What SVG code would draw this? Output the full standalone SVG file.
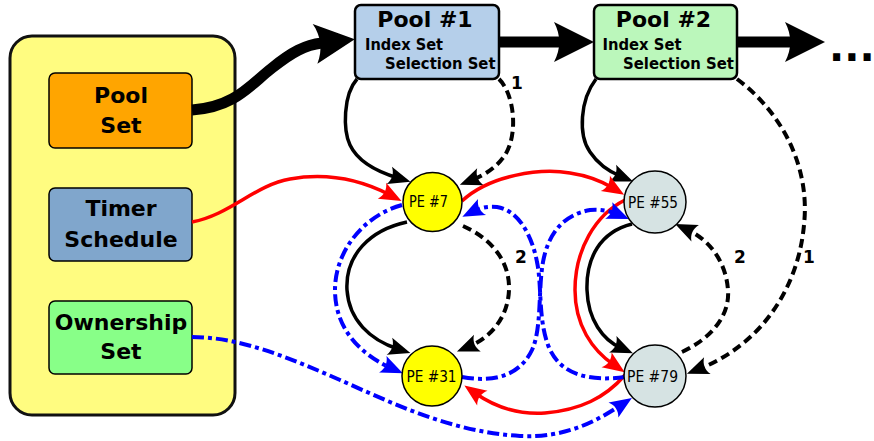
<svg xmlns="http://www.w3.org/2000/svg" width="874" height="441" viewBox="0 0 874 441">
  <defs>
    <style>
      .title { font-family: "DejaVu Sans", "Liberation Sans", sans-serif; font-weight: bold; font-size: 22px; fill: #000; }
      .sub { font-family: "DejaVu Sans", "Liberation Sans", sans-serif; font-weight: bold; font-size: 15px; fill: #000; }
      .pe { font-family: "DejaVu Sans", "Liberation Sans", sans-serif; font-size: 15.5px; fill: #000; }
      .num { font-family: "DejaVu Sans", "Liberation Sans", sans-serif; font-weight: bold; font-size: 17px; fill: #000; }
      .box { stroke: #000; stroke-width: 1.5; }
      .pool { stroke: #000; stroke-width: 2.5; }
      .pe-node { stroke: #000; stroke-width: 1.5; }
      .thick { fill: none; stroke: #000; stroke-width: 11; }
      .solid { fill: none; stroke: #000; stroke-width: 3.5; }
      .dash { fill: none; stroke: #000; stroke-width: 4; stroke-dasharray: 9 5; }
      .red { fill: none; stroke: #ff0000; stroke-width: 3.5; }
      .blue { fill: none; stroke: #0000ff; stroke-width: 4; stroke-dasharray: 12 4 4 4; }
    </style>
    <marker id="big" markerUnits="userSpaceOnUse" markerWidth="60" markerHeight="60" viewBox="-20 -30 60 60" refX="0" refY="0" orient="auto" overflow="visible">
      <path d="M33,0 L-7,-20 C0,-7 0,7 -7,20 Z" fill="#000"/>
    </marker>
    <marker id="ak" markerUnits="userSpaceOnUse" markerWidth="30" markerHeight="30" viewBox="-15 -15 30 30" refX="0" refY="0" orient="auto" overflow="visible">
      <path d="M13,0 L-9,-9 C-5,-3 -5,3 -9,9 Z" fill="#000"/>
    </marker>
    <marker id="ar" markerUnits="userSpaceOnUse" markerWidth="30" markerHeight="30" viewBox="-15 -15 30 30" refX="0" refY="0" orient="auto" overflow="visible">
      <path d="M13,0 L-9,-9 C-5,-3 -5,3 -9,9 Z" fill="#ff0000"/>
    </marker>
    <marker id="ab" markerUnits="userSpaceOnUse" markerWidth="30" markerHeight="30" viewBox="-15 -15 30 30" refX="0" refY="0" orient="auto" overflow="visible">
      <path d="M13,0 L-9,-9 C-5,-3 -5,3 -9,9 Z" fill="#0000ff"/>
    </marker>
  </defs>

  <rect width="874" height="441" fill="#fff"/>

  <!-- scheduler state container -->
  <g id="state">
    <rect x="10" y="36" width="225" height="379" rx="22" fill="#fffc80" stroke="#111" stroke-width="3"/>
  </g>
  <g id="pool-set">
    <rect class="box" x="49" y="73" width="143" height="75" rx="6" fill="#ffa500"/>
    <text class="title" x="121" y="103" text-anchor="middle">Pool</text>
    <text class="title" x="121" y="133" text-anchor="middle">Set</text>
  </g>
  <g id="timer-schedule">
    <rect class="box" x="49" y="188" width="143" height="73" rx="6" fill="#80a6cc"/>
    <text class="title" x="121" y="216" text-anchor="middle">Timer</text>
    <text class="title" x="121" y="247" text-anchor="middle">Schedule</text>
  </g>
  <g id="ownership-set">
    <rect class="box" x="49" y="301" width="143" height="73" rx="6" fill="#88ff88"/>
    <text class="title" x="121" y="330" text-anchor="middle">Ownership</text>
    <text class="title" x="121" y="359" text-anchor="middle">Set</text>
  </g>

  <g id="connectors">
    <!-- pool chain -->
    <path class="thick" d="M192,110 C235,107 250,85 272,68 C292,52 305,45 322,43" marker-end="url(#big)"/>
    <path class="thick" d="M499,42 L561,42" marker-end="url(#big)"/>
    <path class="thick" d="M737,42 L792,42" marker-end="url(#big)"/>
    <text class="title" x="829" y="61" style="font-size:40px">...</text>

    <!-- pool to PE links -->
    <path class="solid" d="M357,79 C343,95 343,130 350,145 C358,162 378,172 398,178" marker-end="url(#ak)"/>
    <path class="dash" d="M499,79 C515,95 518,135 505,155 C497,167 485,175 472,180" marker-end="url(#ak)"/>
    <text class="num" x="517" y="89" text-anchor="middle">1</text>
    <path class="solid" d="M596,79 C580,100 578,135 590,152 C598,164 610,172 621,176.5" marker-end="url(#ak)"/>
    <path class="dash" d="M737,79 C785,115 810,170 804,225 C798,290 760,345 699,369" marker-end="url(#ak)"/>
    <text class="num" x="809" y="263" text-anchor="middle">1</text>

    <!-- PE to PE links -->
    <path class="solid" d="M407,222 C370,230 345,255 347,290 C349,320 370,340 398,349" marker-end="url(#ak)"/>
    <path class="dash" d="M463,226 C490,238 510,260 509,290 C508,318 490,338 469,346.5" marker-end="url(#ak)"/>
    <text class="num" x="521" y="263" text-anchor="middle">2</text>
    <path class="solid" d="M632,224 C600,232 586,258 587,290 C588,320 603,340 621,348" marker-end="url(#ak)"/>
    <path class="dash" d="M682,352 C712,338 730,315 728,290 C726,262 710,240 687,229.5" marker-end="url(#ak)"/>
    <text class="num" x="740" y="263" text-anchor="middle">2</text>

    <!-- timer links -->
    <path class="red" d="M192,222 C230,215 255,185 290,179 C330,172 365,182 390,195" marker-end="url(#ar)"/>
    <path class="red" d="M462,201 C490,175 540,168 570,173 C590,176 603,182 613,188" marker-end="url(#ar)"/>
    <path class="red" d="M625,200 C595,215 575,250 575,290 C575,325 592,350 614,365" marker-end="url(#ar)"/>
    <path class="red" d="M625,375 C605,398 580,410 545,413 C515,415 492,405 475,393" marker-end="url(#ar)"/>

    <!-- ownership links -->
    <path class="blue" d="M402,205 C365,215 335,250 335,290 C335,330 362,355 391,368" marker-end="url(#ab)"/>
    <path class="blue" d="M625,377 C595,381 560,378 548,345 C538,318 542,285 537,262 C532,235 518,210 497,207 C488,206 480,208 474,211" marker-end="url(#ab)"/>
    <path class="blue" d="M462,377 C495,383 520,375 532,350 C542,328 538,290 543,262 C548,235 562,215 590,210 C600,209 610,211 617,214" marker-end="url(#ab)"/>
    <path class="blue" d="M192,337 C240,337 290,358 340,380 C390,402 450,432 520,436 C565,438 595,422 621,405" marker-end="url(#ab)"/>
  </g>

  <g id="pool-1">
    <rect class="pool" x="355" y="5" width="144" height="74" rx="6" fill="#b5cfea"/>
    <text class="title" x="425" y="27" text-anchor="middle">Pool #1</text>
    <text class="sub" x="365" y="50" textLength="78" lengthAdjust="spacingAndGlyphs">Index Set</text>
    <text class="sub" x="385" y="69" textLength="110.5" lengthAdjust="spacingAndGlyphs">Selection Set</text>
  </g>
  <g id="pool-2">
    <rect class="pool" x="594" y="5" width="143" height="74" rx="6" fill="#bbf7bb"/>
    <text class="title" x="663.5" y="27" text-anchor="middle">Pool #2</text>
    <text class="sub" x="602.5" y="50" textLength="79" lengthAdjust="spacingAndGlyphs">Index Set</text>
    <text class="sub" x="623" y="69" textLength="111" lengthAdjust="spacingAndGlyphs">Selection Set</text>
  </g>

  <g id="pe-7">
    <circle class="pe-node" cx="432.5" cy="202" r="29.5" fill="#ffff00"/>
    <text class="pe" x="409" y="206.5" textLength="39" lengthAdjust="spacingAndGlyphs">PE #7</text>
  </g>
  <g id="pe-31">
    <circle class="pe-node" cx="432" cy="376" r="30" fill="#ffff00"/>
    <text class="pe" x="406.5" y="382" textLength="50" lengthAdjust="spacingAndGlyphs">PE #31</text>
  </g>
  <g id="pe-55">
    <circle class="pe-node" cx="655" cy="202" r="31" fill="#d6e3e3"/>
    <text class="pe" x="628" y="207.5" textLength="50" lengthAdjust="spacingAndGlyphs">PE #55</text>
  </g>
  <g id="pe-79">
    <circle class="pe-node" cx="655" cy="376" r="31" fill="#d6e3e3"/>
    <text class="pe" x="627" y="381.5" textLength="51" lengthAdjust="spacingAndGlyphs">PE #79</text>
  </g>
</svg>
